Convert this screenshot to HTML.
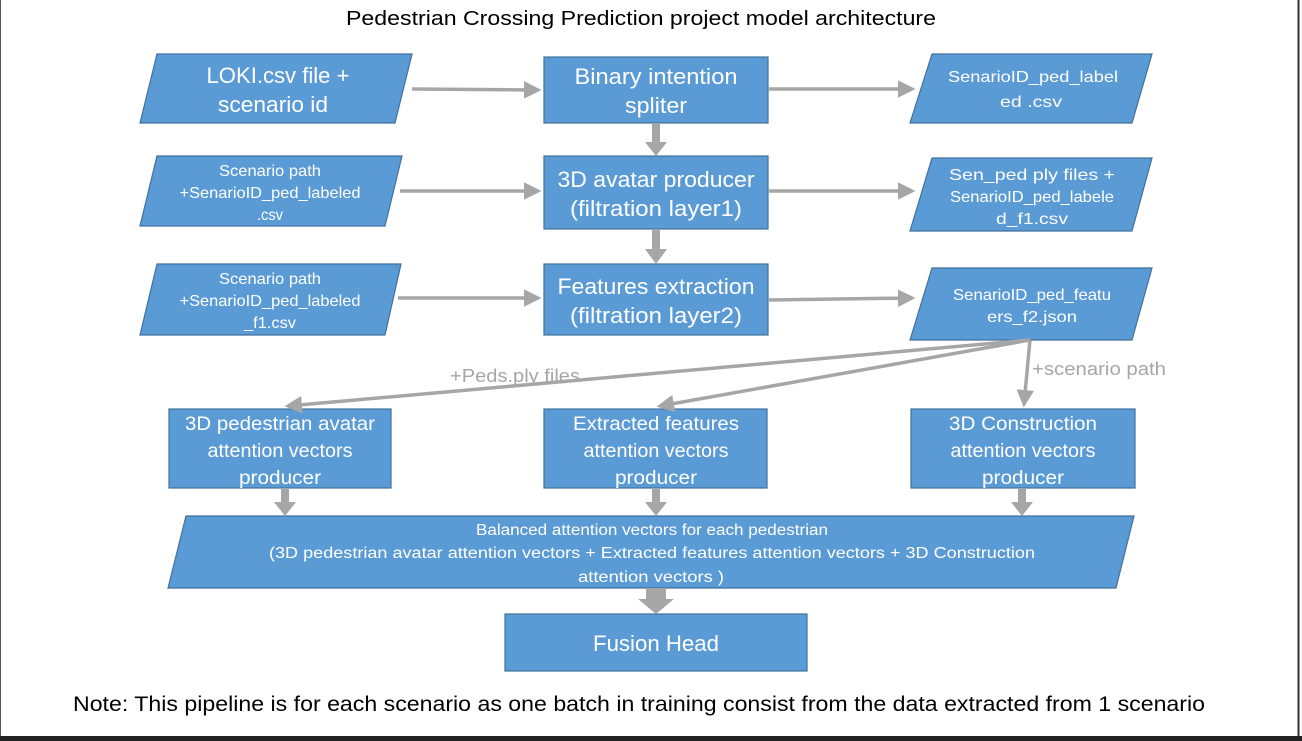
<!DOCTYPE html>
<html><head><meta charset="utf-8"><style>
html,body{margin:0;padding:0;background:#fff;}
svg{display:block;}
text{font-family:"Liberation Sans",sans-serif;fill:#fff;text-anchor:middle;}
.g{fill:#a6a6a6;}
</style></head><body>
<svg width="1302" height="741" viewBox="0 0 1302 741" xmlns="http://www.w3.org/2000/svg">
<defs>
<marker id="ah" markerWidth="5" markerHeight="5" refX="4" refY="2.5" orient="auto" markerUnits="strokeWidth"><path d="M0,0 L5,2.5 L0,5 z" fill="#a6a6a6"/></marker>
</defs>
<rect x="0" y="0" width="1302" height="741" fill="#fff"/>
<line x1="0.5" y1="0" x2="0.5" y2="737" stroke="#555" stroke-width="1"/>
<line x1="1298.5" y1="0" x2="1298.5" y2="737" stroke="#333" stroke-width="2"/>
<rect x="0" y="736" width="1302" height="5" fill="#222"/>

<text x="641" y="25" style="fill:#000;font-size:20px" textLength="590" lengthAdjust="spacingAndGlyphs">Pedestrian Crossing Prediction project model architecture</text>

<g fill="#5b9bd5" stroke="#41719c" stroke-width="1.2">
<polygon points="157,54 412,54 395,123 140,123"/>
<rect x="544" y="57" width="224" height="66"/>
<polygon points="932,54 1152,54 1132,123 910,123"/>
<polygon points="157,156 402,156 385,226 140,226"/>
<rect x="544" y="156" width="224" height="73"/>
<polygon points="932,158 1152,158 1132,231 910,231"/>
<polygon points="157,264 401,264 385,335 140,335"/>
<rect x="544" y="264" width="224" height="71"/>
<polygon points="932,268 1152,268 1132,340 910,340"/>
<rect x="169" y="409" width="222" height="79"/>
<rect x="544" y="409" width="223" height="79"/>
<rect x="911" y="409" width="224" height="79"/>
<polygon points="186,516 1134,516 1116,588 168,588"/>
<rect x="505" y="614" width="302" height="57"/>
</g>

<g stroke="#a6a6a6" stroke-width="3.5" fill="none" marker-end="url(#ah)">
<line x1="412" y1="89" x2="538" y2="90"/>
<line x1="768" y1="89" x2="912" y2="89"/>
<line x1="400" y1="191" x2="538" y2="191"/>
<line x1="768" y1="191" x2="912" y2="191"/>
<line x1="398" y1="298" x2="538" y2="298"/>
<line x1="768" y1="300" x2="912" y2="298"/>
<line x1="1030" y1="340" x2="288" y2="406"/>
<line x1="1030" y1="340" x2="660" y2="406"/>
<line x1="1030" y1="340" x2="1024" y2="404"/>
</g>
<g class="g">
<rect x="652" y="123" width="8" height="21"/><polygon points="645,142 667,142 656,156"/>
<rect x="652" y="229" width="8" height="22"/><polygon points="645,249 667,249 656,264"/>
<rect x="281" y="488" width="8" height="16"/><polygon points="274,502 296,502 285,516"/>
<rect x="652" y="488" width="8" height="16"/><polygon points="645,502 667,502 656,516"/>
<rect x="1018" y="488" width="8" height="16"/><polygon points="1011,502 1033,502 1022,516"/>
<rect x="646" y="588" width="20" height="13"/><polygon points="638,599 674,599 656,614"/>
</g>

<g style="font-size:22px">
<text x="278" y="83" textLength="143" lengthAdjust="spacingAndGlyphs">LOKI.csv file +</text>
<text x="273" y="112" textLength="110" lengthAdjust="spacingAndGlyphs">scenario id</text>
<text x="656" y="84" textLength="163" lengthAdjust="spacingAndGlyphs">Binary intention</text>
<text x="656" y="113" textLength="62" lengthAdjust="spacingAndGlyphs">spliter</text>
<text x="656" y="187" textLength="197" lengthAdjust="spacingAndGlyphs">3D avatar producer</text>
<text x="656" y="216" textLength="172" lengthAdjust="spacingAndGlyphs">(filtration layer1)</text>
<text x="656" y="294" textLength="197" lengthAdjust="spacingAndGlyphs">Features extraction</text>
<text x="656" y="323" textLength="172" lengthAdjust="spacingAndGlyphs">(filtration layer2)</text>
<text x="656" y="651" textLength="126" lengthAdjust="spacingAndGlyphs">Fusion Head</text>
</g>

<g style="font-size:16px">
<text x="1033" y="82" textLength="170" lengthAdjust="spacingAndGlyphs">SenarioID_ped_label</text>
<text x="1031" y="107" textLength="62" lengthAdjust="spacingAndGlyphs">ed .csv</text>
<text x="270" y="176" textLength="102" lengthAdjust="spacingAndGlyphs">Scenario path</text>
<text x="270" y="198" textLength="181" lengthAdjust="spacingAndGlyphs">+SenarioID_ped_labeled</text>
<text x="270" y="220" textLength="26" lengthAdjust="spacingAndGlyphs">.csv</text>
<text x="1032" y="180" textLength="166" lengthAdjust="spacingAndGlyphs">Sen_ped ply files +</text>
<text x="1032" y="202" textLength="164" lengthAdjust="spacingAndGlyphs">SenarioID_ped_labele</text>
<text x="1032" y="224" textLength="72" lengthAdjust="spacingAndGlyphs">d_f1.csv</text>
<text x="270" y="284" textLength="102" lengthAdjust="spacingAndGlyphs">Scenario path</text>
<text x="270" y="306" textLength="181" lengthAdjust="spacingAndGlyphs">+SenarioID_ped_labeled</text>
<text x="270" y="328" textLength="52" lengthAdjust="spacingAndGlyphs">_f1.csv</text>
<text x="1032" y="300" textLength="158" lengthAdjust="spacingAndGlyphs">SenarioID_ped_featu</text>
<text x="1032" y="322" textLength="90" lengthAdjust="spacingAndGlyphs">ers_f2.json</text>
</g>

<text x="515" y="382" style="font-size:18px;fill:#a6a6a6" textLength="130" lengthAdjust="spacingAndGlyphs">+Peds.ply files</text>
<text x="1099" y="375" style="font-size:18px;fill:#a6a6a6" textLength="134" lengthAdjust="spacingAndGlyphs">+scenario path</text>

<g style="font-size:19.5px">
<text x="280" y="430" textLength="190" lengthAdjust="spacingAndGlyphs">3D pedestrian avatar</text>
<text x="280" y="457" textLength="145" lengthAdjust="spacingAndGlyphs">attention vectors</text>
<text x="280" y="484" textLength="82" lengthAdjust="spacingAndGlyphs">producer</text>
<text x="656" y="430" textLength="166" lengthAdjust="spacingAndGlyphs">Extracted features</text>
<text x="656" y="457" textLength="145" lengthAdjust="spacingAndGlyphs">attention vectors</text>
<text x="656" y="484" textLength="82" lengthAdjust="spacingAndGlyphs">producer</text>
<text x="1023" y="430" textLength="148" lengthAdjust="spacingAndGlyphs">3D Construction</text>
<text x="1023" y="457" textLength="145" lengthAdjust="spacingAndGlyphs">attention vectors</text>
<text x="1023" y="484" textLength="82" lengthAdjust="spacingAndGlyphs">producer</text>
</g>

<g style="font-size:15.5px">
<text x="652" y="535" textLength="352" lengthAdjust="spacingAndGlyphs">Balanced attention vectors for each pedestrian</text>
<text x="652" y="558" textLength="766" lengthAdjust="spacingAndGlyphs">(3D pedestrian avatar attention vectors + Extracted features attention vectors + 3D Construction</text>
<text x="651" y="582" textLength="146" lengthAdjust="spacingAndGlyphs">attention vectors )</text>
</g>

<text x="639" y="711" style="fill:#000;font-size:21px" textLength="1132" lengthAdjust="spacingAndGlyphs">Note: This pipeline is for each scenario as one batch in training consist from the data extracted from 1 scenario</text>
</svg>
</body></html>
